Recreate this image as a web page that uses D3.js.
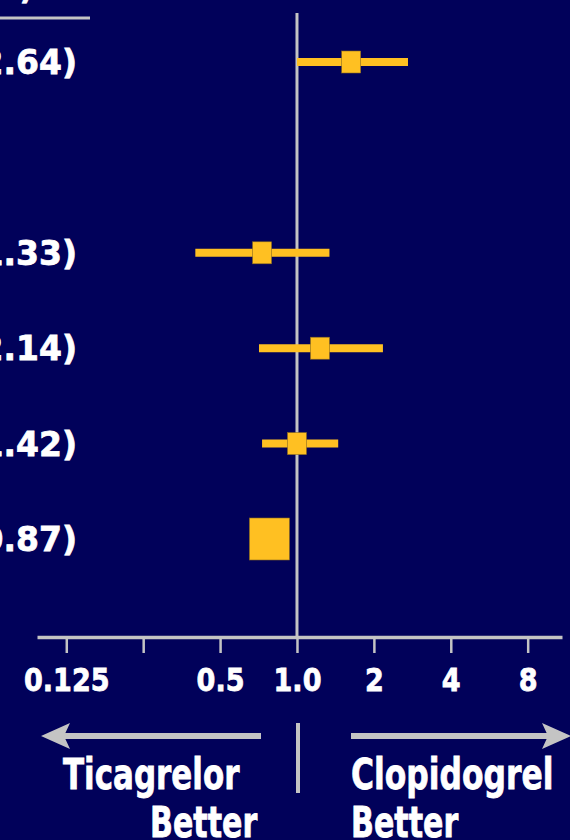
<!DOCTYPE html>
<html lang="en">

<head>
	<meta charset="UTF-8">
	<title>Forest plot - Ticagrelor vs Clopidogrel</title>
	<script src="https://cdn.jsdelivr.net/npm/d3@7/dist/d3.min.js"></script>
	<style>
		html, body { margin: 0; padding: 0; background: #01015a; overflow: hidden; }
		svg { display: block; }
		text { font-family: "DejaVu Sans", Verdana, sans-serif; font-weight: bold; fill: #ffffff; stroke: #ffffff; stroke-width: 0.8px; }
	</style>
</head>

<body>
	<div id="chart"></div>
	<script>
		// row slots (group names sit off the left edge of the picture)
		const rows = ["r1", "r2", "r3", "r4", "r5", "r6"];
		const ciText = ["1.63 (1.00\u20132.64)", "", "0.73 (0.40\u20131.33)", "1.23 (0.71\u20132.14)", "1.00 (0.73\u20131.42)", "0.78 (0.70\u20130.87)"];
		const hr = [1.63, null, 0.73, 1.23, 1.00, 0.78];
		const lower = [1.00, null, 0.40, 0.71, 0.73, 0.70];
		const upper = [2.72, null, 1.34, 2.17, 1.45, 0.87];
		const overall = [false, false, false, false, false, true];

		const tickValues = [0.125, 0.25, 0.5, 1, 2, 4, 8];
		const tickLabels = ["0.125", "", "0.5", "1.0", "2", "4", "8"];

		const leftLabel = ["Ticagrelor", "Better"];
		const rightLabel = ["Clopidogrel", "Better"];
		const headerText = "HR (95% CI)";

		const width = 570, height = 840;
		const gray = "#c4c4c4", yellow = "#ffc022";
		const axisY = 637;

		var svg = d3.select("#chart").append("svg")
			.attr("width", width)
			.attr("height", height);

		svg.append("rect").attr("width", width).attr("height", height).attr("fill", "#01015a");

		var x = d3.scaleLog().base(2).domain([0.096, 10.9]).range([37, 562]);
		var y = d3.scalePoint().domain(rows).range([62, 539]);

		var data = rows.map((r, i) => ({ row: r, text: ciText[i], hr: hr[i], lo: lower[i], hi: upper[i], overall: overall[i] }));

		// squeezed bold text, the original font is narrower than DejaVu
		function label(g, str, tx, ty, size, sx, anchor) {
			return g.append("text")
				.attr("transform", `translate(${tx},${ty}) scale(${sx},1)`)
				.attr("text-anchor", anchor)
				.style("font-size", size + "px")
				.text(str);
		}

		// header + underline, mostly cut off at the left
		label(svg, headerText, 33, -1.5, 34, 0.86, "end");
		svg.append("line").attr("x1", 0).attr("x2", 90).attr("y1", 18).attr("y2", 18)
			.attr("stroke", gray).attr("stroke-width", 3);

		// line of no effect
		svg.append("line")
			.attr("x1", x(1)).attr("x2", x(1))
			.attr("y1", 13).attr("y2", axisY)
			.attr("stroke", gray).attr("stroke-width", 3);

		// axis
		var axis = d3.axisBottom(x)
			.tickValues(tickValues)
			.tickSize(16)
			.tickSizeOuter(0)
			.tickFormat((d, i) => tickLabels[i]);

		var gAxis = svg.append("g")
			.attr("transform", `translate(0,${axisY})`)
			.call(axis);
		gAxis.select(".domain").attr("stroke", gray).attr("stroke-width", 3.5);
		gAxis.selectAll(".tick line").attr("stroke", gray).attr("stroke-width", 2.5);
		gAxis.selectAll(".tick text")
			.attr("y", 0).attr("dy", 0)
			.attr("transform", "translate(0,54) scale(0.86,1)")
			.attr("fill", "#ffffff")
			.style("font-size", "31.5px")
			.style("font-family", "'DejaVu Sans', sans-serif")
			.style("font-weight", "bold");

		// CI text on the left
		var rowsWithData = data.filter(d => d.hr !== null);
		rowsWithData.forEach(d => label(svg, d.text, 77, y(d.row) + 12, 34, 0.97, "end"));

		// CI bars
		svg.append("g").selectAll("line")
			.data(rowsWithData)
			.join("line")
			.attr("x1", d => x(d.lo))
			.attr("x2", d => x(d.hi))
			.attr("y1", d => y(d.row))
			.attr("y2", d => y(d.row))
			.attr("stroke", yellow)
			.attr("stroke-width", 8);

		// point estimates
		svg.append("g").selectAll("rect")
			.data(rowsWithData)
			.join("rect")
			.attr("x", d => x(d.hr) - (d.overall ? 20 : 9.5))
			.attr("y", d => y(d.row) - (d.overall ? 21 : 11))
			.attr("width", d => d.overall ? 40 : 19)
			.attr("height", d => d.overall ? 42 : 22)
			.attr("fill", yellow)
			.attr("stroke", "#8a6a20")
			.attr("stroke-width", 0.6);

		// direction arrows
		const arrowY = 736;
		svg.append("line").attr("x1", 60).attr("x2", 261).attr("y1", arrowY).attr("y2", arrowY)
			.attr("stroke", gray).attr("stroke-width", 6);
		svg.append("path")
			.attr("d", `M41,${arrowY} L70,${arrowY - 13} L64,${arrowY} L70,${arrowY + 13} Z`)
			.attr("fill", gray);
		svg.append("line").attr("x1", 351).attr("x2", 552).attr("y1", arrowY).attr("y2", arrowY)
			.attr("stroke", gray).attr("stroke-width", 6);
		svg.append("path")
			.attr("d", `M571,${arrowY} L542,${arrowY - 13} L548,${arrowY} L542,${arrowY + 13} Z`)
			.attr("fill", gray);
		svg.append("line").attr("x1", 298).attr("x2", 298).attr("y1", 723).attr("y2", 793)
			.attr("stroke", gray).attr("stroke-width", 4);

		label(svg, leftLabel[0], 63, 789, 43, 0.72, "start");
		label(svg, leftLabel[1], 150, 837, 43, 0.70, "start");
		label(svg, rightLabel[0], 351, 789, 43, 0.73, "start");
		label(svg, rightLabel[1], 351, 837, 43, 0.70, "start");
	</script>
</body>

</html>
